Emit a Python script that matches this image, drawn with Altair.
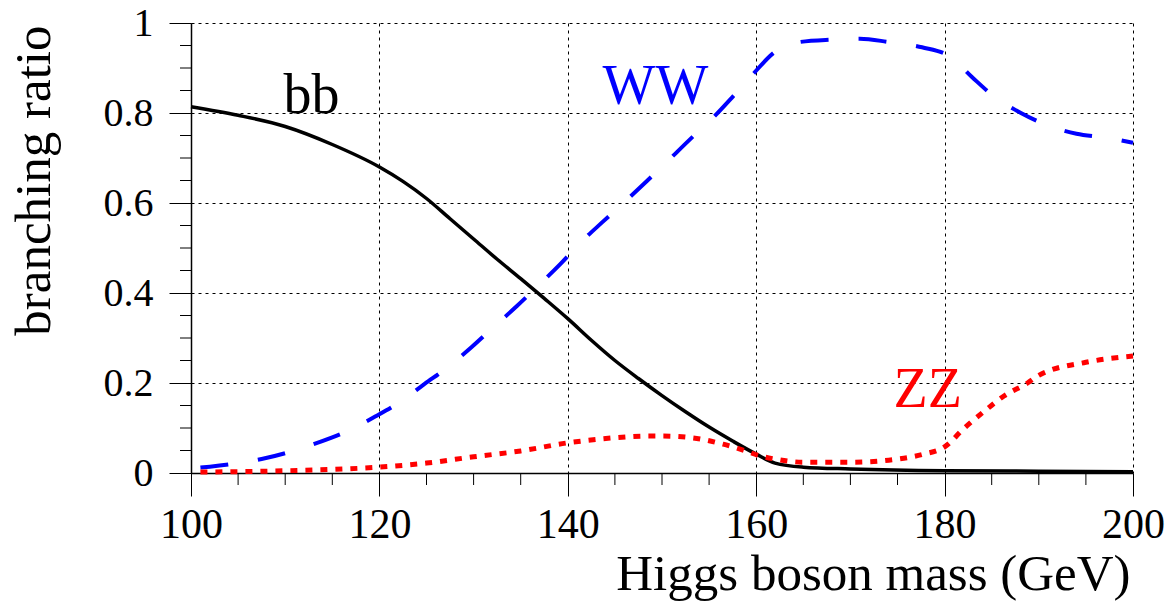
import altair as alt
import pandas as pd

# ---- data ----
bb_mass = [100, 105, 110, 115, 120, 122.5, 125, 127.5, 130, 132.5, 135, 137.5, 140, 142.5, 145, 147.5, 150,
           152.5, 155, 157.5, 160, 162, 165, 170, 180, 190, 200]
bb_ratio = [0.814, 0.795, 0.77, 0.73, 0.68, 0.648, 0.61, 0.565, 0.52, 0.475, 0.432, 0.388, 0.343, 0.295, 0.25,
            0.21, 0.172, 0.136, 0.102, 0.071, 0.042, 0.022, 0.013, 0.009, 0.005, 0.004, 0.003]

ww_mass = [101, 102, 104.4, 107.5, 110.5, 113.7, 116.6, 119.6, 122.2, 124.8, 127.3, 129.8, 132.1, 134.6,
           136.7, 139.2, 141.3, 143.7, 145.9, 148.4, 150.5, 153, 155.3, 157.5, 159.6, 162, 164.7, 168, 171,
           174, 177.6, 180.6, 182.9, 185.3, 188.1, 191, 194, 197.2, 200]
ww_ratio = [0.012, 0.014, 0.02, 0.031, 0.047, 0.069, 0.093, 0.126, 0.158, 0.198, 0.236, 0.28, 0.324, 0.371,
            0.413, 0.464, 0.511, 0.558, 0.6, 0.649, 0.691, 0.742, 0.787, 0.836, 0.885, 0.936, 0.958, 0.963, 0.965,
            0.958, 0.946, 0.925, 0.88, 0.836, 0.80, 0.772, 0.754, 0.745, 0.734]

zz_mass = [101, 105, 110, 115, 120, 125, 130, 135, 140, 144.8, 148.4, 150.1, 153.3, 156.5, 158.6, 160.4, 162,
           165, 170, 175, 177.8, 180, 182, 184.2, 186.3, 188.8, 190, 195, 200]
zz_ratio = [0.002, 0.003, 0.005, 0.008, 0.013, 0.022, 0.036, 0.049, 0.067, 0.078, 0.082, 0.082, 0.078, 0.064,
            0.051, 0.038, 0.031, 0.024, 0.024, 0.031, 0.042, 0.058, 0.098, 0.137, 0.171, 0.2, 0.217, 0.246, 0.26]

label_text = ["bb", "WW", "ZZ"]
label_mass = [112.8, 149.3, 178.2]
label_ratio = [0.80, 0.82, 0.147]
label_color = ["black", "#0000ff", "#ff0000"]

x_major = [100, 120, 140, 160, 180, 200]
x_minor = [105, 110, 115, 125, 130, 135, 145, 150, 155, 165, 170, 175, 185, 190, 195]
y_major = [0, 0.2, 0.4, 0.6, 0.8, 1.0]
y_minor = [0.05, 0.1, 0.15, 0.25, 0.3, 0.35, 0.45, 0.5, 0.55, 0.65, 0.7, 0.75, 0.85, 0.9, 0.95]

W, H = 942, 450
FONT = "Liberation Serif"

df_bb = pd.DataFrame({"m": bb_mass, "v": bb_ratio})
df_ww = pd.DataFrame({"m": ww_mass, "v": ww_ratio})
df_zz = pd.DataFrame({"m": zz_mass, "v": zz_ratio})
df_lab = pd.DataFrame({"m": label_mass, "v": label_ratio, "t": label_text, "c": label_color})
df_xminor = pd.DataFrame({"m": x_minor})
df_yminor = pd.DataFrame({"v": y_minor})

xs = alt.Scale(domain=[100, 200], nice=False, zero=False)
ys = alt.Scale(domain=[0, 1], nice=False, zero=False)

x_axis = alt.Axis(
    values=x_major, format="d", grid=True, gridColor="black", gridDash=[3, 4], gridWidth=1,
    domainColor="black", domainWidth=1.5, tickColor="black", tickSize=23, tickWidth=1,
    labelFont=FONT, labelFontSize=42, labelColor="black", labelPadding=8,
    labelFlush=False, labelOverlap=False,
    title="Higgs boson mass (GeV)", titleFont=FONT, titleFontSize=51, titleFontWeight="normal",
    titleColor="black", titleAnchor="end", titleAlign="right", titleBaseline="alphabetic",
    titleX=939, titleY=116,
)
y_axis = alt.Axis(
    values=y_major, format="~g", grid=True, gridColor="black", gridDash=[3, 4], gridWidth=1,
    domainColor="black", domainWidth=1.5, tickColor="black", tickSize=22, tickWidth=1,
    labelFont=FONT, labelFontSize=40, labelColor="black", labelPadding=16,
    labelFlush=False, labelOverlap=False, labelBaseline="middle",
    title="branching ratio", titleFont=FONT, titleFontSize=51, titleFontWeight="normal",
    titleColor="black", titleAngle=270, titleAlign="right", titleBaseline="alphabetic",
    titleX=-142, titleY=2,
)

X = alt.X("m:Q", scale=xs, axis=x_axis)
Y = alt.Y("v:Q", scale=ys, axis=y_axis)

bb = alt.Chart(df_bb).mark_line(color="black", strokeWidth=3.5, interpolate="monotone").encode(x=X, y=Y)
ww = alt.Chart(df_ww).mark_line(color="#0000ff", strokeWidth=4, strokeDash=[28, 30],
                                interpolate="monotone").encode(x=X, y=Y)
zz = alt.Chart(df_zz).mark_line(color="#ff0000", strokeWidth=5, strokeDash=[7, 8],
                                interpolate="monotone").encode(x=X, y=Y)
labels = alt.Chart(df_lab).mark_text(font=FONT, fontSize=56, align="center", baseline="alphabetic").encode(
    x=X, y=Y, text="t:N", color=alt.Color("c:N", scale=None),
)
xminor = alt.Chart(df_xminor).mark_rule(color="black", strokeWidth=1).encode(
    x=X, y=alt.value(H), y2=alt.value(H + 12),
)
yminor = alt.Chart(df_yminor).mark_rule(color="black", strokeWidth=1).encode(
    y=Y, x=alt.value(0), x2=alt.value(-11),
)

chart = alt.layer(bb, ww, zz, labels, xminor, yminor).properties(
    width=W, height=H,
    autosize=alt.AutoSizeParams(type="none"),
    padding={"left": 191, "top": 23, "right": 36, "bottom": 135},
    background="white",
).configure_view(stroke=None)

chart.save("out.html", embed_options={"renderer": "svg", "actions": False})
